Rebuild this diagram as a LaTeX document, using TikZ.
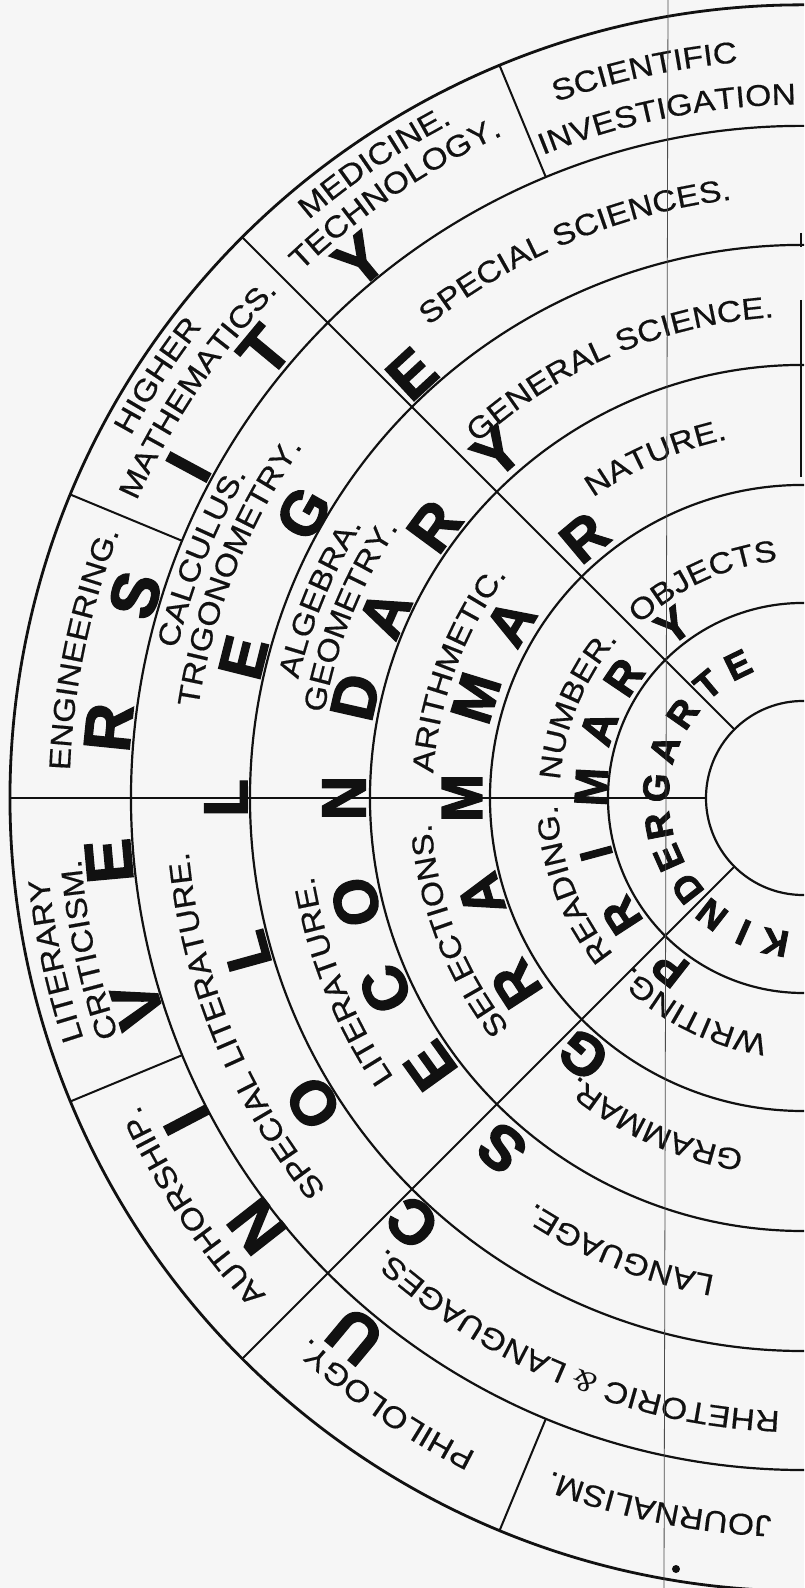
\documentclass[tikz,border=0pt]{standalone}
\usepackage{fontspec}
\usetikzlibrary{decorations.text}
\newfontfamily\lblfont[FakeStretch=1.12,FakeBold=0.5]{Liberation Sans}
\newfontfamily\bigfont[FakeBold=2.2]{Liberation Sans Bold}
\newfontfamily\ampfont{Liberation Serif}
\definecolor{bg}{RGB}{246,246,246}
\definecolor{ink}{RGB}{17,17,17}
\newcommand\lblsty{\lblfont\fontsize{30bp}{36bp}\selectfont\color{ink}}
\newcommand\ampsym{{\ampfont\itshape\&}}
% label along an arc: #1 centre angle, #2 centre radius of the letters, #3 text
\newcommand\arclabel[3]{%
  \pgfmathsetmacro\rbase{#2-10.5}%
  \pgfmathsetmacro\astart{#1+45}%
  \pgfmathsetmacro\aend{#1-45}%
  \path[decorate,decoration={text along path,text align=center,text={|\lblsty|#3}}]
    (\astart:\rbase bp) arc[start angle=\astart,end angle=\aend,radius=\rbase bp];}
% big letters of a ring: #1 name prefix, #2 size, #3 angle/radius/letter list
\newcommand\ringletters[3]{%
  \foreach \a/\r/\l [count=\i] in {#3}
    \node[bigl,font=\bigfont\fontsize{#2bp}{#2bp}\selectfont,rotate=\a-90] (#1\i) at (\a:\r bp) {\l};}
\begin{document}
\begin{tikzpicture}[x=1bp,y=1bp,
  ringline/.style={draw=ink,line width=2.2bp},
  radial/.style={draw=ink,line width=2bp},
  bigl/.style={inner sep=0pt,text=ink}]
\useasboundingbox (-803,-790) rectangle (1,798);
\fill[bg] (-803,-790) rectangle (1,798);
\clip (-803,-790) rectangle (1,798);
\coordinate (O) at (0,0);
% rings
\foreach \r in {97,195,313,433,553,672}
  \draw[ringline] (80:\r bp) arc[start angle=80,end angle=280,radius=\r bp];
\draw[ringline,line width=2.8bp] (80:793bp) arc[start angle=80,end angle=280,radius=793bp];
% radial lines
\foreach \a in {135,180,225} \draw[radial] (\a:97bp) -- (\a:793bp);
\foreach \a in {112.5,157.5,202.5,247.5} \draw[radial] (\a:672bp) -- (\a:793bp);
\draw[radial,line width=1.5bp] (-2,498) -- (-2,321);
\draw[radial,line width=1.5bp] (-2,565) -- (-2,551);
% university ring labels
\arclabel{102.3}{749}{SCIENTIFIC}
\arclabel{101.3}{704}{INVESTIGATION}
\arclabel{124}{771}{MEDICINE.}
\arclabel{124}{738}{TECHNOLOGY.}
\arclabel{146.8}{774}{HIGHER}
\arclabel{146}{740}{MATHEMATICS.}
\arclabel{168.3}{744}{ENGINEERING.}
\arclabel{192.3}{769}{LITERARY}
\arclabel{192}{735}{CRITICISM.}
\arclabel{213.8}{742}{AUTHORSHIP.}
\arclabel{235.5}{742}{PHILOLOGY.}
\arclabel{258.5}{729}{JOURNALISM.}
% college ring labels
\arclabel{112.6}{613}{SPECIAL SCIENCES.}
\arclabel{158.2}{654}{CALCULUS.}
\arclabel{158.2}{622}{TRIGONOMETRY.}
\arclabel{202.2}{627}{SPECIAL LITERATURE.}
\arclabel{247.5}{624}{RHETORIC {\ampsym} LANGUAGES.}
% secondary ring labels
\arclabel{113}{492}{GENERAL SCIENCE.}
\arclabel{157.5}{529}{ALGEBRA.}
\arclabel{158.1}{497}{GEOMETRY.}
\arclabel{201.7}{506}{LITERATURE.}
\arclabel{248}{496}{LANGUAGE.}
% grammar ring labels
\arclabel{113.4}{377}{NATURE.}
\arclabel{159.6}{381}{ARITHMETIC.}
\arclabel{201}{383}{SELECTIONS.}
\arclabel{245.7}{368}{GRAMMAR.}
% primary ring labels
\arclabel{114.7}{249}{OBJECTS}
\arclabel{157.6}{254}{NUMBER.}
\arclabel{200.6}{256}{READING.}
\arclabel{243}{250}{WRITING.}
% big letters
\ringletters{u}{66}{230.2/700/U,218.1/694/N,207.6/696/I,197.3/697/V,185.2/697/E,174.2/698/R,163.1/698/S,151.7/698/I,140.3/700/T,129.5/697/Y}
\ringletters{c}{62}{227.4/577/C,211.9/577/O,195.4/577/L,180/577/L,165.9/577/E,150.3/575/G,132.7/577/E}
\ringletters{s}{62}{229.3/462/S,215.7/459/E,204.6/459/C,193.1/459/O,180/459/N,167.3/459/D,156.2/457/A,143.6/458/R,131.5/462/Y}
\ringletters{g}{58}{229.4/338/G,213/342/R,196.8/336/A,180/341/M,163/342/M,149/341/A,130/340/R}
\ringletters{p}{46}{232/216/P,213/216/R,195/214/I,177/212/M,161/216/A,146/216/R,127/216/Y}
\ringletters{k}{37}{259/147/K,246/147/I,232/148/N,218/147/D,204/147/E,191/147/R,176/147/G,160.5/147/A,145/147/R,130/148/T,116/148/E}
% fold line and spot of the scan
\draw[gray!60!black,line width=0.8bp] (-135,798) -- (-139,-790);
\fill[ink] (-127,-771) circle (4bp);
\end{tikzpicture}
\end{document}
